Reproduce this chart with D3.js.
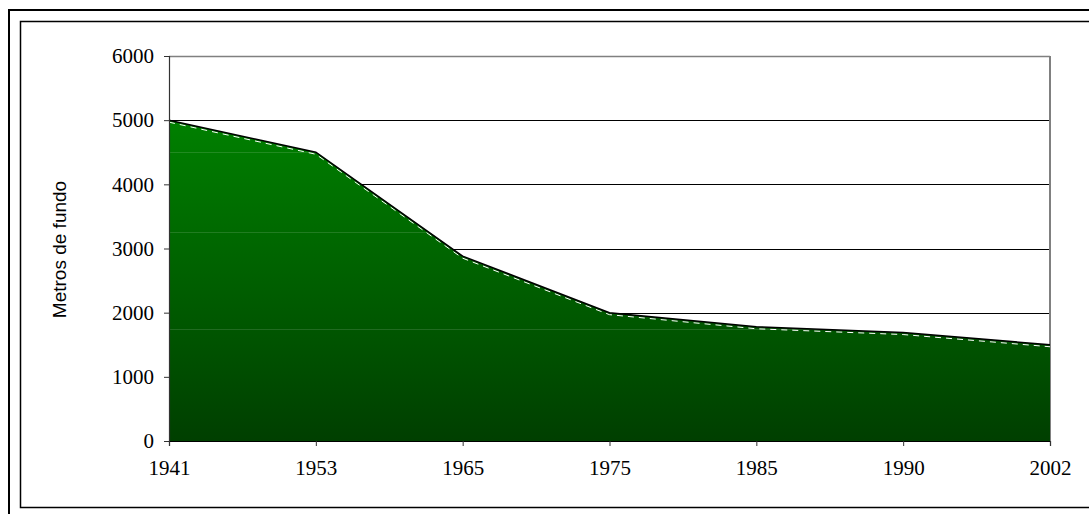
<!DOCTYPE html>
<html>
<head>
<meta charset="utf-8">
<script src="https://cdn.jsdelivr.net/npm/d3@7"></script>
<style>
html,body{margin:0;padding:0;background:#fff;}
svg{display:block;}
</style>
</head>
<body>
<svg id="chart" width="1089" height="514"></svg>
<script>
const years = ["1941","1953","1965","1975","1985","1990","2002"];
const metros = [5000, 4500, 2880, 2000, 1780, 1690, 1500];
const yTicks = [0, 1000, 2000, 3000, 4000, 5000, 6000];
const bandLevels = [4500, 3250, 1750];
const yLabel = "Metros de fundo";

const svg = d3.select("#chart");
const W = 1089, H = 514;
const plot = {left: 169, right: 1050, top: 56, bottom: 441};

// frames
svg.append("rect").attr("x", 9).attr("y", 10).attr("width", W + 20).attr("height", H + 20)
  .attr("fill", "none").attr("stroke", "#000").attr("stroke-width", 2);
svg.append("rect").attr("x", 20.5).attr("y", 21.5).attr("width", W + 20).attr("height", 507.5 - 21.5)
  .attr("fill", "none").attr("stroke", "#000").attr("stroke-width", 1.5);

const x = d3.scalePoint().domain(years).range([plot.left, plot.right]);
const y = d3.scaleLinear().domain([0, 6000]).range([plot.bottom, plot.top]);

const defs = svg.append("defs");
const grad = defs.append("linearGradient").attr("id", "g")
  .attr("gradientUnits", "userSpaceOnUse")
  .attr("x1", 0).attr("x2", 0).attr("y1", y(5000)).attr("y2", y(0));
grad.append("stop").attr("offset", "0%").attr("stop-color", "#008000");
grad.append("stop").attr("offset", "100%").attr("stop-color", "#003f00");

const data = years.map((yr, i) => ({yr, v: metros[i]}));
const areaGen = d3.area().x(d => x(d.yr)).y0(y(0)).y1(d => y(d.v));
defs.append("clipPath").attr("id", "areaClip").append("path").datum(data).attr("d", areaGen);

// gridlines
svg.append("g").selectAll("line").data(yTicks.filter(v => v > 0 && v < 6000)).join("line")
  .attr("x1", plot.left).attr("x2", plot.right)
  .attr("y1", d => Math.round(y(d)) + 0.5).attr("y2", d => Math.round(y(d)) + 0.5)
  .attr("stroke", "#000").attr("stroke-width", 1);

// top & right border
svg.append("line").attr("x1", plot.left).attr("x2", plot.right)
  .attr("y1", plot.top + 0.5).attr("y2", plot.top + 0.5).attr("stroke", "#808080").attr("stroke-width", 1.5);
svg.append("line").attr("x1", plot.right).attr("x2", plot.right)
  .attr("y1", plot.top).attr("y2", plot.bottom).attr("stroke", "#808080").attr("stroke-width", 2);

svg.append("path").datum(data).attr("d", areaGen).attr("fill", "url(#g)");

// faint gradient banding lines
svg.append("g").attr("clip-path", "url(#areaClip)").selectAll("line").data(bandLevels).join("line")
  .attr("x1", plot.left).attr("x2", plot.right)
  .attr("y1", d => Math.round(y(d)) + 0.5).attr("y2", d => Math.round(y(d)) + 0.5)
  .attr("stroke", "#ffffff").attr("stroke-opacity", 0.13).attr("stroke-width", 1);

svg.append("path").datum(data)
  .attr("d", d3.line().x(d => x(d.yr)).y(d => y(d.v) + 2))
  .attr("fill", "none").attr("stroke", "#fff").attr("stroke-width", 1).attr("stroke-dasharray", "6,5");

svg.append("path").datum(data)
  .attr("d", d3.line().x(d => x(d.yr)).y(d => y(d.v)))
  .attr("fill", "none").attr("stroke", "#000").attr("stroke-width", 1.5);

// axes
const yAxis = d3.axisLeft(y).tickValues(yTicks).tickSize(5).tickPadding(10).tickFormat(d3.format("d"));
const gy = svg.append("g").attr("transform", `translate(${plot.left},0)`).call(yAxis);
gy.select(".domain").attr("stroke", "#333").attr("stroke-width", 1.2);
gy.selectAll(".tick line").attr("stroke", "#333");
gy.selectAll("text").attr("font-family", "'Liberation Serif','Times New Roman',serif")
  .attr("font-size", 21).attr("fill", "#000");

const xAxis = d3.axisBottom(x).tickSize(5).tickPadding(14);
const gx = svg.append("g").attr("transform", `translate(0,${plot.bottom})`).call(xAxis);
gx.select(".domain").attr("stroke", "#000").attr("stroke-width", 1.2);
gx.selectAll(".tick line").attr("stroke", "#333");
gx.selectAll("text").attr("font-family", "'Liberation Serif','Times New Roman',serif")
  .attr("font-size", 21).attr("fill", "#000");

svg.append("text")
  .attr("transform", `translate(66,${(plot.top + plot.bottom) / 2 + 1}) rotate(-90)`)
  .attr("text-anchor", "middle")
  .attr("font-family", "'Liberation Sans',Arial,sans-serif")
  .attr("font-size", 19).attr("fill", "#000")
  .text(yLabel);
</script>
</body>
</html>
